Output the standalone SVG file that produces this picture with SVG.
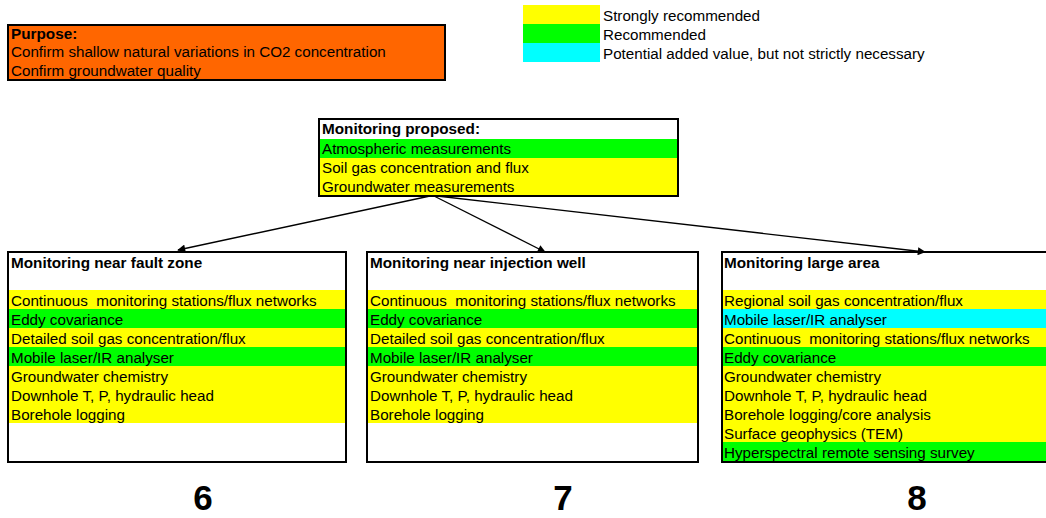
<svg xmlns="http://www.w3.org/2000/svg" width="1046" height="518" viewBox="0 0 1046 518" xml:space="preserve">
<style>
text{font-family:"Liberation Sans",Arial,sans-serif;font-size:15.2px;fill:#000;white-space:pre}
.b{font-weight:bold;font-size:15.3px}
.num{font-weight:bold;font-size:35px;text-anchor:middle}
.y{fill:#FFFF00}.g{fill:#00FF00}.c{fill:#00FFFF}.o{fill:#FF6600}
.frame{fill:none;stroke:#000;stroke-width:2}
.conn{stroke:#000;stroke-width:1.3;fill:none;marker-end:url(#ah)}
</style>
<defs>
<marker id="ah" viewBox="0 0 10 10" refX="9" refY="5" markerWidth="10" markerHeight="8" markerUnits="userSpaceOnUse" orient="auto"><path d="M0,0L10,5L0,10z" fill="#000"/></marker>
</defs>
<rect width="1046" height="518" fill="#fff"/>
<g id="purpose">
<rect x="8" y="25" width="437" height="55" class="o"/>
<rect x="8" y="25" width="437" height="55" class="frame"/>
<text x="11" y="38.5" class="b">Purpose:</text>
<text x="11" y="56.5">Confirm shallow natural variations in CO2 concentration</text>
<text x="11" y="75.5">Confirm groundwater quality</text>
</g>
<g id="legend">
<rect x="523" y="5" width="77" height="19" class="y"/>
<rect x="523" y="24" width="77" height="19" class="g"/>
<rect x="523" y="43" width="77" height="19" class="c"/>
<text x="603" y="20.5">Strongly recommended</text>
<text x="603" y="39.5">Recommended</text>
<text x="603" y="58.5">Potential added value, but not strictly necessary</text>
</g>
<g id="proposed">
<rect x="319" y="139" width="359" height="19" class="g"/>
<rect x="319" y="158" width="359" height="38" class="y"/>
<rect x="319" y="119" width="359" height="77" class="frame"/>
<text x="322" y="134" class="b">Monitoring proposed:</text>
<text x="322" y="153.5">Atmospheric measurements</text>
<text x="322" y="172.5">Soil gas concentration and flux</text>
<text x="322" y="191.5">Groundwater measurements</text>
</g>
<g id="connectors">
<line x1="430" y1="196" x2="178" y2="250" class="conn"/>
<line x1="434" y1="196" x2="545" y2="252" class="conn"/>
<line x1="437" y1="196" x2="925" y2="252" class="conn"/>
</g>
<g id="fault">
<rect x="9" y="290" width="336" height="19" class="y"/>
<rect x="9" y="309" width="336" height="19" class="g"/>
<rect x="9" y="328" width="336" height="19" class="y"/>
<rect x="9" y="347" width="336" height="19" class="g"/>
<rect x="9" y="366" width="336" height="57" class="y"/>
<rect x="8" y="252" width="338" height="210" class="frame"/>
<text x="11" y="268" class="b">Monitoring near fault zone</text>
<text x="11" y="305.5">Continuous  monitoring stations/flux networks</text>
<text x="11" y="324.5">Eddy covariance</text>
<text x="11" y="343.5">Detailed soil gas concentration/flux</text>
<text x="11" y="362.5">Mobile laser/IR analyser</text>
<text x="11" y="381.5">Groundwater chemistry</text>
<text x="11" y="400.5">Downhole T, P, hydraulic head</text>
<text x="11" y="419.5">Borehole logging</text>
</g>
<g id="injection">
<rect x="368" y="290" width="329" height="19" class="y"/>
<rect x="368" y="309" width="329" height="19" class="g"/>
<rect x="368" y="328" width="329" height="19" class="y"/>
<rect x="368" y="347" width="329" height="19" class="g"/>
<rect x="368" y="366" width="329" height="57" class="y"/>
<rect x="367" y="252" width="331" height="210" class="frame"/>
<text x="370" y="268" class="b">Monitoring near injection well</text>
<text x="370" y="305.5">Continuous  monitoring stations/flux networks</text>
<text x="370" y="324.5">Eddy covariance</text>
<text x="370" y="343.5">Detailed soil gas concentration/flux</text>
<text x="370" y="362.5">Mobile laser/IR analyser</text>
<text x="370" y="381.5">Groundwater chemistry</text>
<text x="370" y="400.5">Downhole T, P, hydraulic head</text>
<text x="370" y="419.5">Borehole logging</text>
</g>
<g id="large">
<rect x="723" y="290" width="323" height="19" class="y"/>
<rect x="723" y="309" width="323" height="19" class="c"/>
<rect x="723" y="328" width="323" height="19" class="y"/>
<rect x="723" y="347" width="323" height="19" class="g"/>
<rect x="723" y="366" width="323" height="76" class="y"/>
<rect x="723" y="442" width="323" height="19" class="g"/>
<rect x="722" y="252" width="330" height="210" class="frame"/>
<text x="724" y="268" class="b">Monitoring large area</text>
<text x="724" y="305.5">Regional soil gas concentration/flux</text>
<text x="724" y="324.5">Mobile laser/IR analyser</text>
<text x="724" y="343.5">Continuous  monitoring stations/flux networks</text>
<text x="724" y="362.5">Eddy covariance</text>
<text x="724" y="381.5">Groundwater chemistry</text>
<text x="724" y="400.5">Downhole T, P, hydraulic head</text>
<text x="724" y="419.5">Borehole logging/core analysis</text>
<text x="724" y="438.5">Surface geophysics (TEM)</text>
<text x="724" y="457.5">Hyperspectral remote sensing survey</text>
</g>
<g id="numbers">
<text x="203" y="510" class="num">6</text>
<text x="563" y="510" class="num">7</text>
<text x="917" y="510" class="num">8</text>
</g>
</svg>
